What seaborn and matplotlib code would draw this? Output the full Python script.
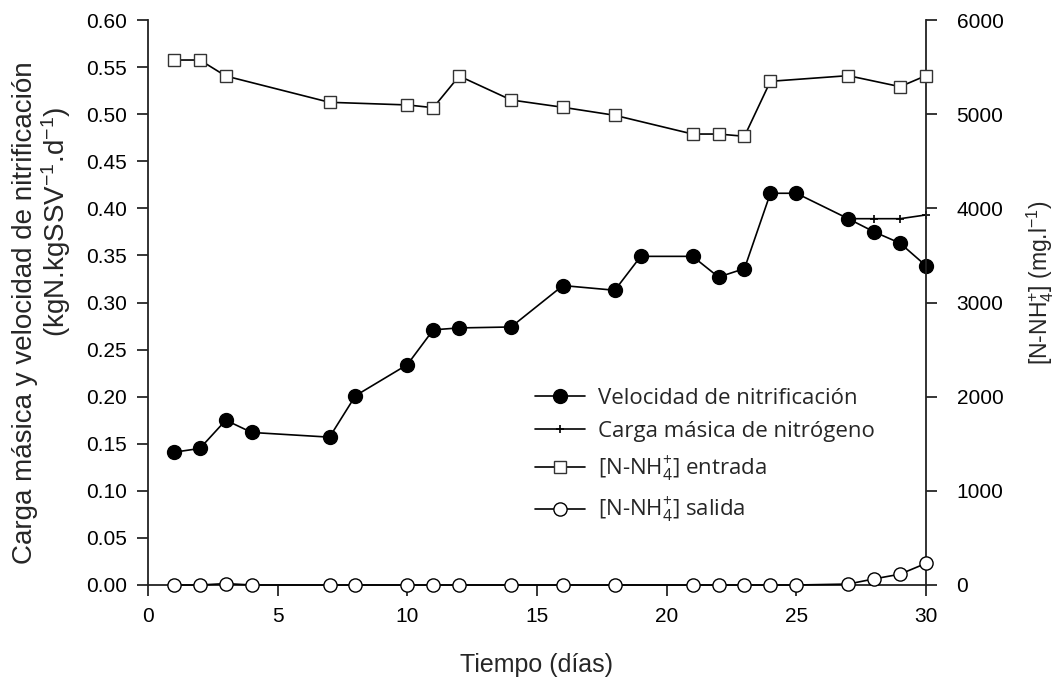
import numpy as np
import pandas as pd
import matplotlib
matplotlib.use("Agg")
import matplotlib.pyplot as plt
import seaborn as sns

# Nitrification rate (kgN/kgSSV/d)
dias_vel = [1, 2, 3, 4, 7, 8, 10, 11, 12, 14, 16, 18, 19, 21, 22, 23, 24, 25, 27, 28, 29, 30]
velocidad = [0.141, 0.145, 0.175, 0.162, 0.157, 0.201, 0.234, 0.271, 0.273, 0.274,
             0.318, 0.313, 0.349, 0.349, 0.327, 0.336, 0.416, 0.416, 0.389, 0.375,
             0.363, 0.339]

# Nitrogen mass load (kgN/kgSSV/d)
dias_carga = [27, 28, 29, 30]
carga = [0.389, 0.389, 0.389, 0.393]

# Influent ammonium (mg/l)
dias_ent = [1, 2, 3, 7, 10, 11, 12, 14, 16, 18, 21, 22, 23, 24, 27, 29, 30]
entrada = [5575, 5575, 5405, 5126, 5098, 5069, 5405, 5151, 5073, 4988, 4789, 4789,
           4765, 5349, 5409, 5292, 5409]

# Effluent ammonium (mg/l)
dias_sal = [1, 2, 3, 4, 7, 8, 10, 11, 12, 14, 16, 18, 21, 22, 23, 24, 25, 27, 28, 29, 30]
salida = [0, 0, 15, 0, 0, 0, 0, 0, 0, 0, 0, 0, 0, 0, 0, 0, 0, 10, 65, 115, 230]

x_ticks = [0, 5, 10, 15, 20, 25, 30]
y_left_ticks = np.round(np.arange(0, 0.601, 0.05), 2)
y_right_ticks = [0, 1000, 2000, 3000, 4000, 5000, 6000]

sns.set_style("ticks")
plt.rcParams["font.family"] = ["Liberation Sans", "DejaVu Sans"]
plt.rcParams["mathtext.fontset"] = "custom"
plt.rcParams["mathtext.rm"] = "Liberation Sans"
plt.rcParams["mathtext.it"] = "Liberation Sans:italic"
plt.rcParams["mathtext.default"] = "regular"

W, H = 1061, 679
fig = plt.figure(figsize=(W / 100, H / 100), dpi=100)
ax = fig.add_axes([148 / W, 1 - 585 / H, (926 - 148) / W, (585 - 20) / H])
ax2 = ax.twinx()

lw = 1.2
common = dict(color="black", linewidth=lw, clip_on=False, legend=False)

sns.lineplot(x=dias_carga, y=carga, ax=ax, marker="+", markersize=6,
             markeredgecolor="black", markeredgewidth=1.2,
             label="Carga másica de nitrógeno", zorder=2, **common)
sns.lineplot(x=dias_vel, y=velocidad, ax=ax, marker="o", markersize=10,
             markerfacecolor="black", markeredgecolor="black", markeredgewidth=1,
             label="Velocidad de nitrificación", zorder=3, **common)

sns.lineplot(x=dias_ent, y=entrada, ax=ax2, marker="s", markersize=8.5,
             markerfacecolor="white", markeredgecolor="#333333", markeredgewidth=1,
             label="[N-NH$_4^{+}$] entrada", zorder=3, **common)
sns.lineplot(x=dias_sal, y=salida, ax=ax2, marker="o", markersize=9.5,
             markerfacecolor="white", markeredgecolor="black", markeredgewidth=1,
             label="[N-NH$_4^{+}$] salida", zorder=3, **common)

ax.set_xlim(0, 30)
ax.set_ylim(0, 0.6)
ax2.set_ylim(0, 6000)
ax.set_xticks(x_ticks)
ax.set_yticks(y_left_ticks)
ax.set_yticklabels([f"{v:.2f}" for v in y_left_ticks])
ax2.set_yticks(y_right_ticks)
ax2.set_yticklabels([str(v) for v in y_right_ticks])

for a in (ax, ax2):
    a.tick_params(direction="out", length=8, width=1.1, labelsize=15, colors="black")
    for s in a.spines.values():
        s.set_linewidth(1.3)
        s.set_color("#222222")
    a.spines["top"].set_visible(False)
    a.grid(False)
ax.spines["right"].set_visible(False)
ax2.spines["left"].set_visible(False)
ax2.spines["bottom"].set_visible(False)
ax.tick_params(axis="x", pad=8)
ax.tick_params(axis="y", pad=7)
ax2.tick_params(axis="y", pad=14)

ax.set_xlabel("Tiempo (días)", fontsize=18, labelpad=19)

# Left axis title, two lines placed independently (anchored on their baselines)
fig.text(32 / W, 1 - 313 / H, "Carga másica y velocidad de nitrificación",
         rotation=90, rotation_mode="anchor", ha="center", va="baseline", fontsize=20)
fig.text(65 / W, 1 - 222 / H, "(kgN.kgSSV$^{-1}$.d$^{-1}$)",
         rotation=90, rotation_mode="anchor", ha="center", va="baseline", fontsize=20)
# Right axis title
fig.text(1040 / W, 1 - 283 / H, "[N-NH$_4^{+}$] (mg.l$^{-1}$)",
         rotation=90, ha="center", va="center", fontsize=16.5)

h1, l1 = ax.get_legend_handles_labels()
h2, l2 = ax2.get_legend_handles_labels()
hmap = dict(zip(l1 + l2, h1 + h2))
order = ["Velocidad de nitrificación", "Carga másica de nitrógeno",
         "[N-NH$_4^{+}$] entrada", "[N-NH$_4^{+}$] salida"]
leg = ax2.legend([hmap[k] for k in order], order, loc="upper left",
                 bbox_to_anchor=(535 / W, 1 - 388 / H), bbox_transform=fig.transFigure,
                 frameon=False, borderpad=0, borderaxespad=0, handlelength=2.25,
                 handletextpad=0.6, labelspacing=0.55,
                 prop={"family": ["Open Sans", "DejaVu Sans"], "size": 16})

fig.savefig("out.png", dpi=100, facecolor="white")
